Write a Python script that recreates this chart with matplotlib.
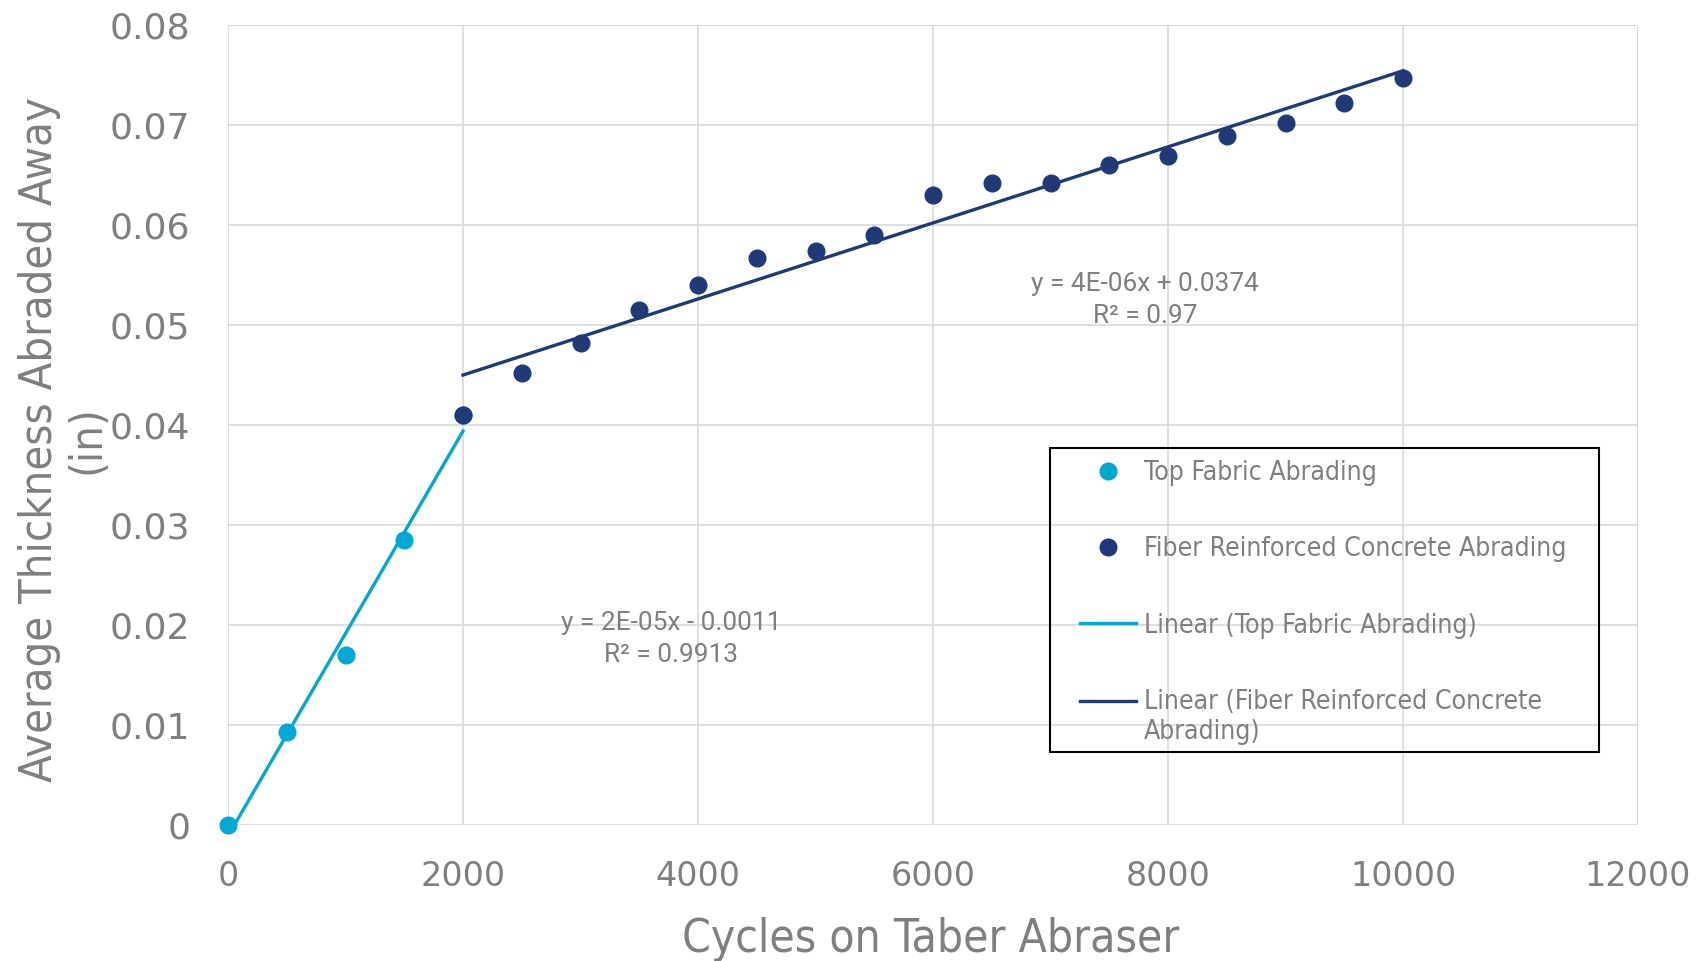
import numpy as np
import matplotlib.pyplot as plt
from matplotlib.patches import Rectangle

# data
top_cycles = [0, 500, 1000, 1500, 2000]
top_thick = [0.0, 0.00927, 0.0170, 0.02847, 0.0410]

frc_cycles = [2000, 2500, 3000, 3500, 4000, 4500, 5000, 5500, 6000,
              6500, 7000, 7500, 8000, 8500, 9000, 9500, 10000]
frc_thick = [0.0410, 0.04523, 0.04823, 0.0515, 0.0540, 0.05673, 0.05743, 0.0590, 0.0630,
             0.06423, 0.06423, 0.06597, 0.06693, 0.06893, 0.07023, 0.07217, 0.07473]

x_ticks = [0, 2000, 4000, 6000, 8000, 10000, 12000]
y_ticks = [0, 0.01, 0.02, 0.03, 0.04, 0.05, 0.06, 0.07, 0.08]
y_tick_labels = ['0', '0.01', '0.02', '0.03', '0.04', '0.05', '0.06', '0.07', '0.08']

top_eq = 'y = 2E-05x - 0.0011\nR² = 0.9913'
frc_eq = 'y = 4E-06x + 0.0374\nR² = 0.97'

light = '#00a8d2'
dark = '#1f3a77'
grey = '#7f7f7f'
narrow = dict(family='DejaVu Sans', stretch='condensed')

W, H = 1702, 961
fig = plt.figure(figsize=(W / 100, H / 100), dpi=100)
ax = fig.add_axes([228/W, 1 - 825/H, 1410/W, 800/H])
renderer = fig.canvas.get_renderer()


# pick a font size so a string comes out at the width (px) seen in the reference
def fit_size(s, target, size=20, **kw):
    t = fig.text(0, 0, s, fontsize=size, **kw)
    w = t.get_window_extent(renderer).width
    t.remove()
    return size * target / w


# scatter series
ax.plot(top_cycles, top_thick, 'o', color=light, ms=12, label='Top Fabric Abrading',
        zorder=3, clip_on=False)
ax.plot(frc_cycles, frc_thick, 'o', color=dark, ms=12, label='Fiber Reinforced Concrete Abrading',
        zorder=3, clip_on=False)

# linear trendlines over each series' range
m1, b1 = np.polyfit(top_cycles, top_thick, 1)
xs1 = np.array([min(top_cycles), max(top_cycles)])
ax.plot(xs1, m1 * xs1 + b1, '-', color=light, lw=2.4, label='Linear (Top Fabric Abrading)', zorder=4)
m2, b2 = np.polyfit(frc_cycles, frc_thick, 1)
xs2 = np.array([min(frc_cycles), max(frc_cycles)])
ax.plot(xs2, m2 * xs2 + b2, '-', color=dark, lw=2.4,
        label='Linear (Fiber Reinforced Concrete\nAbrading)', zorder=4)

eq_size = fit_size('y = 4E-06x + 0.0374', 228, family='Roboto')
ax.text(3770, 0.0186, top_eq, ha='center', va='center', fontsize=eq_size, color=grey,
        family='Roboto', linespacing=1.4)
ax.text(7804, 0.0525, frc_eq, ha='center', va='center', fontsize=eq_size, color=grey,
        family='Roboto', linespacing=1.4)

ax.set_xlim(0, 12000)
ax.set_ylim(0, 0.08)
ax.set_xticks(x_ticks)
ax.set_yticks(y_ticks)
ax.set_yticklabels(y_tick_labels)
ax.tick_params(length=0, labelcolor=grey)
ax.tick_params(axis='y', pad=27, labelsize=26)
ax.tick_params(axis='x', pad=25, labelsize=24)
ax.grid(True, color='#d9d9d9', lw=1.2)
ax.set_axisbelow(True)
for s in ax.spines.values():
    s.set_visible(False)
ax.axvline(12000, color='#d9d9d9', lw=1.2, zorder=0)
ax.axhline(0.08, color='#d9d9d9', lw=1.2, zorder=0)

xl_size = fit_size('Cycles on Taber Abraser', 496, **narrow)
fig.text(931/W, 1 - 940/H, 'Cycles on Taber Abraser', ha='center', va='center',
         fontsize=xl_size, color=grey, **narrow)
yl_size = fit_size('Average Thickness Abraded Away', 684, **narrow)
fig.text(63/W, 1 - 440/H, 'Average Thickness Abraded Away\n(in)', ha='center', va='center',
         rotation=90, fontsize=yl_size, color=grey, linespacing=1.14, **narrow)

# legend: Excel-style box drawn separately, entries placed inside it
fig.patches.append(Rectangle((1050/W, 1 - 752/H), 549/W, 304/H, transform=fig.transFigure,
                             fill=False, edgecolor='black', lw=1.5, zorder=5))
lg_size = fit_size('Fiber Reinforced Concrete Abrading', 423, **narrow)
leg = ax.legend(loc='upper left', bbox_to_anchor=(1080/W, 1 - 460/H),
                bbox_transform=fig.transFigure, borderaxespad=0, frameon=False, borderpad=0,
                prop=dict(size=lg_size, **narrow), labelcolor=grey, labelspacing=1.9,
                handlelength=2.1, handletextpad=0.3)
# Excel puts the handle of a wrapped label level with its first line
last = leg.legend_handles[3]
last.set_ydata(np.asarray(last.get_ydata()) + lg_size * 0.65)

fig.savefig('out.png', dpi=100)
